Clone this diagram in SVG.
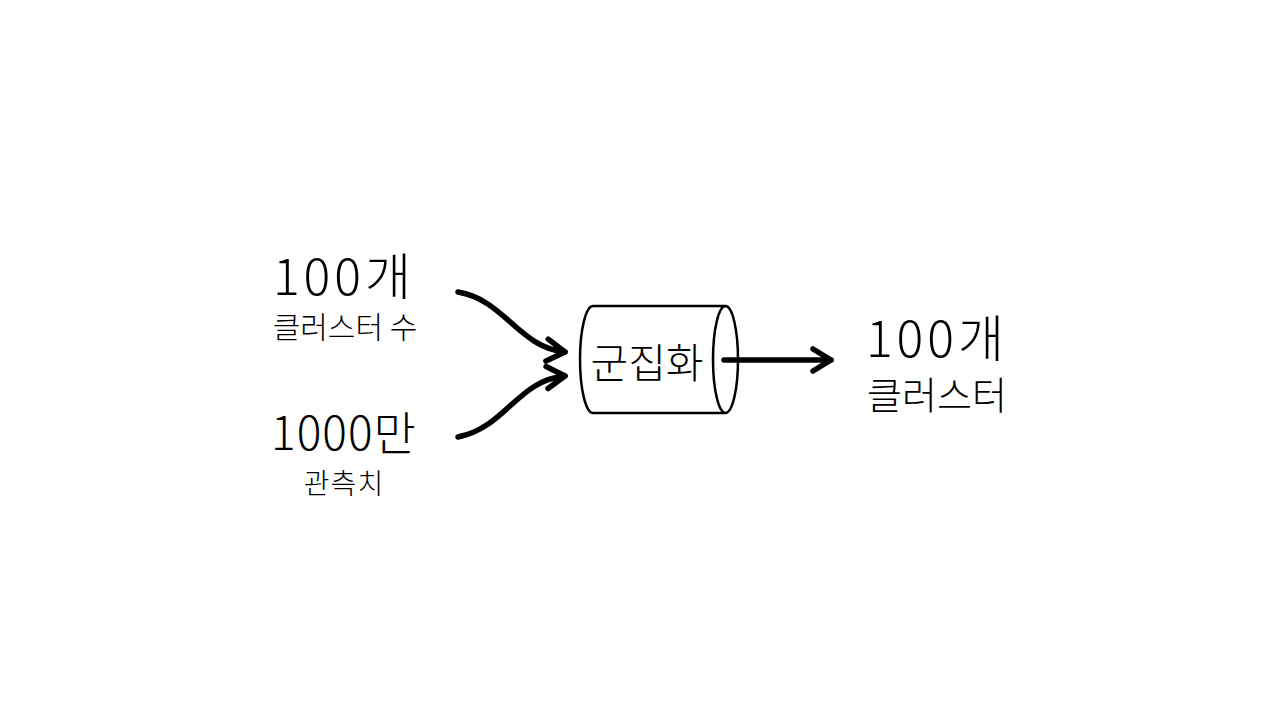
<svg xmlns="http://www.w3.org/2000/svg" width="1280" height="720" viewBox="0 0 1280 720">
<style>
.t{font-family:"Noto Sans CJK KR","Noto Sans",sans-serif;font-weight:200;fill:#000;text-anchor:middle}
.c{fill:none;stroke:#000;stroke-width:5.5;stroke-linecap:round;stroke-linejoin:round}
.s{fill:#fff;stroke:#000;stroke-width:2.5}
</style>
<defs>
<marker id="ah" markerUnits="userSpaceOnUse" viewBox="-25 -15 30 30" markerWidth="30" markerHeight="30" refX="0" refY="0" orient="auto">
<path d="M-18,-11 L0,0 L-18,11" fill="none" stroke="#000" stroke-width="5.5" stroke-linecap="round" stroke-linejoin="round"/>
</marker>
</defs>
<rect width="1280" height="720" fill="#fff"/>
<g id="input-clusters">
<text class="t" x="344" y="295" font-size="50" letter-spacing="4">100개</text>
<text class="t" x="345" y="338" font-size="30">클러스터 수</text>
</g>
<g id="input-observations">
<text class="t" x="344" y="450" font-size="46" letter-spacing="1">1000만</text>
<text class="t" x="344" y="494" font-size="28" letter-spacing="1">관측치</text>
</g>
<g id="clustering">
<path class="s" d="M725,306 L593,306 A13,53.5 0 0 0 593,413 L725,413"/>
<ellipse class="s" cx="725.5" cy="359.5" rx="12.5" ry="53.5"/>
<text class="t" x="647" y="378" font-size="41">군집화</text>
</g>
<g id="output-clusters">
<text class="t" x="937" y="357" font-size="50" letter-spacing="4">100개</text>
<text class="t" x="937" y="409" font-size="38">클러스터</text>
</g>
<g id="connectors">
<path class="c" d="M458,292 C505,300 518,347 565,352" marker-end="url(#ah)"/>
<path class="c" d="M458,437 C505,428 518,380 565,376" marker-end="url(#ah)"/>
<path class="c" d="M724,360 L831,360" marker-end="url(#ah)"/>
</g>
</svg>
